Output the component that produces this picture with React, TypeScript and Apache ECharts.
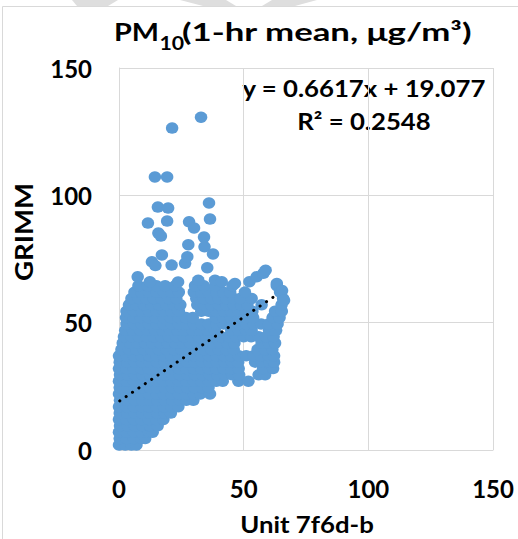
import { useEffect, useRef } from 'react';
import * as echarts from 'echarts';

const FONT = 'Lato, "Open Sans", sans-serif';

// axis ticks
const xTicks = [0, 50, 100, 150];
const yTicks = [0, 50, 100, 150];

// regression shown on the chart
const slope = 0.6617;
const intercept = 19.077;
const trendRange = [0.3, 63.6];

// dense cloud, read row by row: [GRIMM value, Unit 7f6d-b values]
const coreRows: [number, number[]][] = [
  [2, [0, 2.5, 5, 7]],
  [4.5, [0.3, 3, 6, 9, 10.5]],
  [7, [0, 3, 6, 9, 12, 13.5]],
  [9.5, [0.4, 3.4, 6.4, 9.4, 12.4, 15.5]],
  [12, [0, 3, 6, 9, 12, 15, 17.8]],
  [14.5, [0.3, 3.3, 6.3, 9.3, 12.3, 15.3, 18.3, 20.8]],
  [17, [0, 3, 6, 9, 12, 15, 18, 21, 23.8]],
  [19.5, [0.4, 3.4, 6.4, 9.4, 12.4, 15.4, 18.4, 21.4, 24.4, 27, 29.8]],
  [22, [0, 3, 6, 9, 12, 15, 18, 21, 24, 27, 30, 32.6, 36.5]],
  [24.5, [0.3, 3.3, 6.3, 9.3, 12.3, 15.3, 18.3, 21.3, 24.3, 27.3, 30.3, 33.3, 35.9]],
  [27, [0, 3, 6, 9, 12, 15, 18, 21, 24, 27, 30, 33, 36, 39, 41.6, 47.9, 51.9]],
  [29.5, [0.4, 3.4, 6.4, 9.4, 12.4, 15.4, 18.4, 21.4, 24.4, 27.4, 30.4, 33.4, 36.4, 39.4, 42.4, 45.4, 48.2, 56, 58.6]],
  [32, [0, 3, 6, 9, 12, 15, 18, 21, 24, 27, 30, 33, 36, 39, 42, 45, 48, 57.8, 61.8]],
  [34.5, [0.3, 3.3, 6.3, 9.3, 12.3, 15.3, 18.3, 21.3, 24.3, 27.3, 30.3, 33.3, 36.3, 39.3, 42.3, 45.3, 47.8, 54.6, 57.4, 60.3, 62.2]],
  [37, [0, 3, 6, 9, 12, 15, 18, 21, 24, 27, 30, 33, 36, 39, 42, 45, 48, 51, 54, 57, 60, 62.2]],
  [39.5, [1, 4, 7, 10, 13, 16, 19, 22, 25, 28, 31, 34, 37, 40, 43, 46, 55.6, 58.5, 61.5]],
  [42, [1.5, 4.5, 7.5, 10.5, 13.5, 16.5, 19.5, 22.5, 25.5, 28.5, 31.5, 34.5, 37.5, 40.5, 43.5, 46.3, 57.2, 60, 62.6]],
  [44.5, [2, 5, 8, 11, 14, 17, 20, 23, 26, 29, 32, 35, 38, 41, 44, 47, 50, 53, 56, 59, 62]],
  [47, [2.5, 5.5, 8.5, 11.5, 14.5, 17.5, 20.5, 23.5, 26.5, 29.5, 32.5, 35.5, 38.5, 45, 48, 51, 53.2, 60.2, 63]],
  [49.5, [3, 6, 9, 12, 15, 18, 21, 24, 27, 30, 33, 36, 39, 42, 45, 48, 51, 54, 57, 60, 63.6]],
  [52, [2.8, 5.8, 8.8, 11.8, 14.8, 17.8, 20.8, 23.8, 26.8, 29.6, 38.8, 41.8, 44.8, 47.8, 50.8, 53.8, 61.6, 64.4]],
  [54.5, [3, 6, 9, 12, 15, 18, 21, 24, 33, 36, 39, 42, 45, 48, 51, 53.5, 62.6, 65.3]],
  [57, [4, 7, 10, 13, 16, 19, 22, 24.6, 31.4, 34, 37, 40, 43, 46, 49, 51.5, 57.2, 65.2]],
  [59.5, [5, 8, 11, 14, 17, 20, 23, 31, 34, 37, 40, 43, 46, 48.6, 53.2, 65.8]],
  [62, [6.2, 9, 12, 15, 18, 21, 24, 30, 33, 36, 39, 41.8, 44.6, 50.5, 64.6]],
  [64.5, [7.8, 11.5, 15, 18.5, 22.5, 30.5, 34, 38.6, 45.5, 63.3]],
];

// scattered points above the cloud: [Unit 7f6d-b, GRIMM]
const upperPoints: [number, number][] = [
  [7.5, 68], [12.4, 66.1], [13.2, 73.9], [14.6, 72.4], [17.2, 76.6], [21.1, 72.6],
  [23.7, 66], [26.5, 73.3], [27.4, 75.9], [27.8, 80.6], [28.1, 89.6], [30.1, 87.2],
  [34.3, 79.8], [34.1, 83.6], [36.5, 90.7], [36.1, 97.0], [37.7, 77.0], [35.4, 71.6],
  [31.8, 66.7], [38.5, 66.7], [41.2, 66.1], [46.5, 65.4], [52.3, 66.1], [55.2, 68],
  [57.9, 69.4], [58.8, 70.6], [63.3, 65.4], [65.4, 62.6], [66.2, 58.8],
  [15.6, 95.4], [19.7, 95.0], [11.6, 89.1], [19.3, 89.9], [15.8, 85.2], [16.8, 84.0],
  [14.4, 107.2], [19.3, 107.2], [21.3, 126.4], [32.9, 130.7],
];

const cloudPoints: [number, number][] = coreRows.flatMap(([y, xs]) =>
  xs.map((x) => [x, y] as [number, number])
);
const scatterData = [...cloudPoints, ...upperPoints];

const trendData = trendRange.map((x) => [x, slope * x + intercept]);

export default function App() {
  const chartRef = useRef<HTMLDivElement>(null);

  useEffect(() => {
    if (!chartRef.current) return;
    const chart = echarts.init(chartRef.current, undefined, { renderer: 'svg' });

    const boldText = (size: number) => ({
      fontFamily: FONT,
      fontWeight: 'bold' as const,
      fontSize: size,
      fill: '#000',
    });

    const option = {
      animation: false,
      backgroundColor: '#fff',
      grid: { left: 119, right: 25, top: 68, bottom: 89, containLabel: false },
      xAxis: {
        type: 'value',
        min: xTicks[0],
        max: xTicks[xTicks.length - 1],
        interval: 50,
        axisLine: { show: true, lineStyle: { color: '#d9d9d9', width: 1 } },
        axisTick: { show: false },
        splitLine: { show: true, lineStyle: { color: '#d9d9d9', width: 1 } },
        axisLabel: {
          margin: 26,
          color: '#000',
          fontFamily: FONT,
          fontWeight: 'bold',
          fontSize: 24,
        },
      },
      yAxis: {
        type: 'value',
        min: yTicks[0],
        max: yTicks[yTicks.length - 1],
        interval: 50,
        axisLine: { show: true, lineStyle: { color: '#d9d9d9', width: 1 } },
        axisTick: { show: false },
        splitLine: { show: true, lineStyle: { color: '#d9d9d9', width: 1 } },
        axisLabel: {
          margin: 27,
          color: '#000',
          fontFamily: FONT,
          fontWeight: 'bold',
          fontSize: 24,
        },
      },
      series: [
        {
          type: 'scatter',
          data: scatterData,
          symbol: 'circle',
          symbolSize: [12.5, 11.5],
          itemStyle: { color: '#5b9bd5', opacity: 1, borderWidth: 0 },
          z: 2,
        },
        {
          type: 'line',
          data: trendData,
          symbol: 'none',
          lineStyle: { color: '#000', width: 3, type: [0.1, 7.6], cap: 'round' },
          z: 3,
        },
      ],
      graphic: [
        // chart frame
        {
          type: 'rect',
          shape: { x: 2.5, y: 6.5, width: 600, height: 600 },
          style: { fill: 'none', stroke: '#d9d9d9', lineWidth: 1 },
          silent: true,
        },
        // faint watermark pieces at the top edge
        {
          type: 'polygon',
          shape: { points: [[72, 0], [118, 0], [108, 6], [77, 6]] },
          style: { fill: '#dedede' },
          silent: true,
        },
        {
          type: 'polygon',
          shape: { points: [[180, 0], [226, 0], [236, 6], [203, 6]] },
          style: { fill: '#dedede' },
          silent: true,
        },
        {
          type: 'polygon',
          shape: { points: [[272, 0], [317, 0], [295, 6], [262, 6]] },
          style: { fill: '#dedede' },
          silent: true,
        },
        // title: PM with subscript 10
        {
          type: 'text',
          x: 159,
          y: 31.5,
          scaleX: 1.2,
          style: { ...boldText(24), text: 'PM', textAlign: 'right', textVerticalAlign: 'middle' },
        },
        {
          type: 'text',
          x: 159.5,
          y: 42.5,
          scaleX: 1.12,
          style: { ...boldText(19), text: '10', textAlign: 'left', textVerticalAlign: 'middle' },
        },
        {
          type: 'text',
          x: 182,
          y: 31.5,
          scaleX: 1.45,
          style: { ...boldText(24), text: '(1-hr mean, μg/m³)', textAlign: 'left', textVerticalAlign: 'middle' },
        },
        {
          type: 'text',
          x: 364,
          y: 88,
          scaleX: 1.12,
          style: { ...boldText(23), text: 'y = 0.6617x + 19.077', textAlign: 'center', textVerticalAlign: 'middle' },
        },
        {
          type: 'text',
          x: 364,
          y: 121,
          scaleX: 1.12,
          style: { ...boldText(23), text: 'R² = 0.2548', textAlign: 'center', textVerticalAlign: 'middle' },
        },
        {
          type: 'text',
          x: 307,
          y: 524,
          scaleX: 1.12,
          style: { ...boldText(23), text: 'Unit 7f6d-b', textAlign: 'center', textVerticalAlign: 'middle' },
        },
        {
          type: 'text',
          x: 24,
          y: 232,
          rotation: Math.PI / 2,
          scaleX: 1.2,
          scaleY: 1.05,
          style: { ...boldText(23), text: 'GRIMM', textAlign: 'center', textVerticalAlign: 'middle' },
        },
      ],
    };

    chart.setOption(option);
    return () => {
      chart.dispose();
    };
  }, []);

  return (
    <div
      ref={chartRef}
      style={{ position: 'fixed', left: 0, top: 0, width: '518px', height: '539px' }}
    ></div>
  );
}
